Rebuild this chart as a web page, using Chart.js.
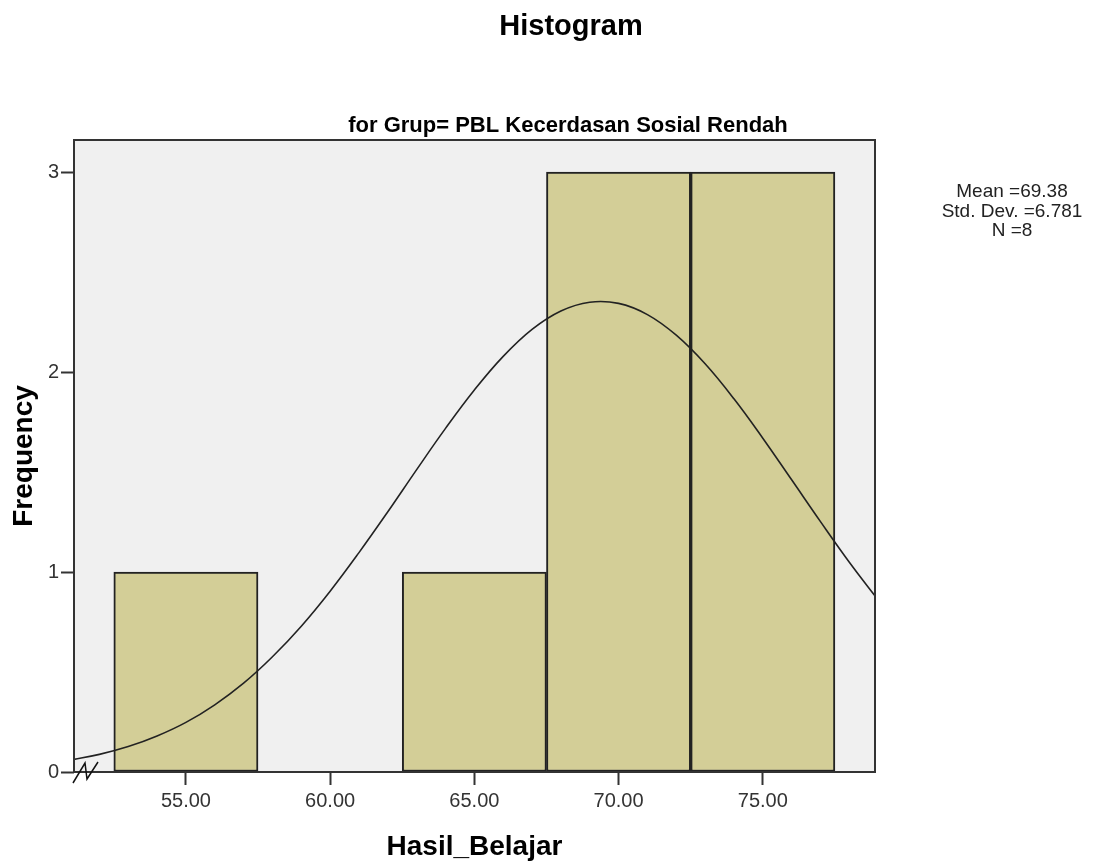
<!DOCTYPE html>
<html>
<head>
<meta charset="utf-8">
<script src="https://cdn.jsdelivr.net/npm/chart.js@4.4.1/dist/chart.umd.min.js"></script>
<style>
  html, body { margin: 0; padding: 0; background: #fff; }
</style>
</head>
<body>
<canvas id="chart_hist" width="1103" height="867"></canvas>
<script>
// histogram bins (centre of each 5-wide bin) and their counts
var binCenters = [55, 65, 70, 75];
var binCounts = [1, 1, 3, 3];

// normal curve
var curveX = [51, 52, 53, 54, 55, 56, 57, 58, 59, 60, 61, 62, 63, 64, 65,
              66, 67, 68, 69, 70, 71, 72, 73, 74, 75, 76, 77, 78, 79];
var curveY = [0.060, 0.088, 0.127, 0.180, 0.248, 0.336, 0.444, 0.576, 0.729, 0.904,
              1.097, 1.301, 1.512, 1.718, 1.910, 2.078, 2.213, 2.305, 2.349, 2.343,
              2.287, 2.184, 2.041, 1.866, 1.669, 1.461, 1.252, 1.049, 0.860];

var xTicks = [55, 60, 65, 70, 75];
var yTicks = [0, 1, 2, 3];

var titleText = 'Histogram';
var subtitleText = 'for Grup= PBL Kecerdasan Sosial Rendah';
var statLines = ['Mean =69.38', 'Std. Dev. =6.781', 'N =8'];

var FONT = "'Liberation Sans', Arial, sans-serif";

// grey plot background, frame, the axis break mark and the free texts
var spssLook = {
    id: 'spssLook',
    beforeDatasetsDraw: function (chart) {
        var a = chart.chartArea, c = chart.ctx;
        c.save();
        c.fillStyle = '#f0f0f0';
        c.fillRect(a.left, a.top, a.right - a.left, a.bottom - a.top);
        c.restore();
    },
    afterDatasetsDraw: function (chart) {
        var a = chart.chartArea, c = chart.ctx;
        c.save();
        c.strokeStyle = '#333';
        c.lineWidth = 2;
        c.strokeRect(a.left, a.top, a.right - a.left, a.bottom - a.top);

        // axis break symbol
        c.strokeStyle = '#111';
        c.lineWidth = 1.5;
        c.beginPath();
        c.moveTo(a.left - 1, a.bottom + 11);
        c.lineTo(a.left + 11, a.bottom - 9);
        c.lineTo(a.left + 13, a.bottom + 7);
        c.lineTo(a.left + 24, a.bottom - 10);
        c.stroke();

        c.fillStyle = '#000';
        c.textAlign = 'center';
        c.textBaseline = 'alphabetic';
        c.font = 'bold 29px ' + FONT;
        c.fillText(titleText, 571, 35);
        c.font = 'bold 22px ' + FONT;
        c.fillText(subtitleText, 568, 132);

        c.fillStyle = '#222';
        c.font = '19px ' + FONT;
        for (var i = 0; i < statLines.length; i++) {
            c.fillText(statLines[i], 1012, 197 + i * 19.5);
        }
        c.restore();
    }
};

var ctx = document.getElementById('chart_hist').getContext('2d');
var histChart = new Chart(ctx, {
    data: {
        datasets: [{
            type: 'line',
            data: curveX.map(function (x, i) { return { x: x, y: curveY[i] }; }),
            borderColor: '#222',
            borderWidth: 1.6,
            pointRadius: 0,
            tension: 0.4,
            fill: false,
            clip: 0
        }, {
            type: 'bar',
            data: binCenters.map(function (x, i) { return { x: x, y: binCounts[i] }; }),
            backgroundColor: '#d3ce97',
            borderColor: '#222',
            borderWidth: 2,
            borderSkipped: false,
            barPercentage: 1,
            categoryPercentage: 1,
            grouped: false
        }]
    },
    options: {
        responsive: false,
        animation: false,
        layout: { padding: { top: 140, right: 228, left: 0, bottom: 0 } },
        plugins: {
            legend: { display: false },
            tooltip: { enabled: false }
        },
        scales: {
            x: {
                type: 'linear',
                offset: false,
                min: 51.12,
                max: 78.89,
                afterFit: function (s) { s.height = 95; },
                afterBuildTicks: function (s) {
                    s.ticks = xTicks.map(function (v) { return { value: v }; });
                },
                ticks: {
                    padding: 4,
                    color: '#333',
                    font: { family: FONT, size: 20 },
                    callback: function (v) { return Number(v).toFixed(2); }
                },
                grid: {
                    offset: false,
                    drawOnChartArea: false,
                    drawTicks: true,
                    tickLength: 13,
                    tickWidth: 2,
                    tickColor: '#333'
                },
                border: { display: false },
                title: {
                    display: true,
                    text: 'Hasil_Belajar',
                    color: '#000',
                    font: { family: FONT, size: 28, weight: 'bold' },
                    padding: { top: 0, bottom: 3 }
                }
            },
            y: {
                type: 'linear',
                min: 0,
                max: 3.16,
                afterFit: function (s) { s.width = 74; },
                afterBuildTicks: function (s) {
                    s.ticks = yTicks.map(function (v) { return { value: v }; });
                },
                ticks: {
                    padding: 2,
                    color: '#333',
                    font: { family: FONT, size: 20 }
                },
                grid: {
                    drawOnChartArea: false,
                    drawTicks: true,
                    tickLength: 13,
                    tickWidth: 2,
                    tickColor: '#333'
                },
                border: { display: false },
                title: {
                    display: true,
                    text: 'Frequency',
                    color: '#000',
                    font: { family: FONT, size: 28, weight: 'bold' },
                    padding: { top: 7, bottom: 0 }
                }
            }
        }
    },
    plugins: [spssLook]
});
</script>
</body>
</html>
